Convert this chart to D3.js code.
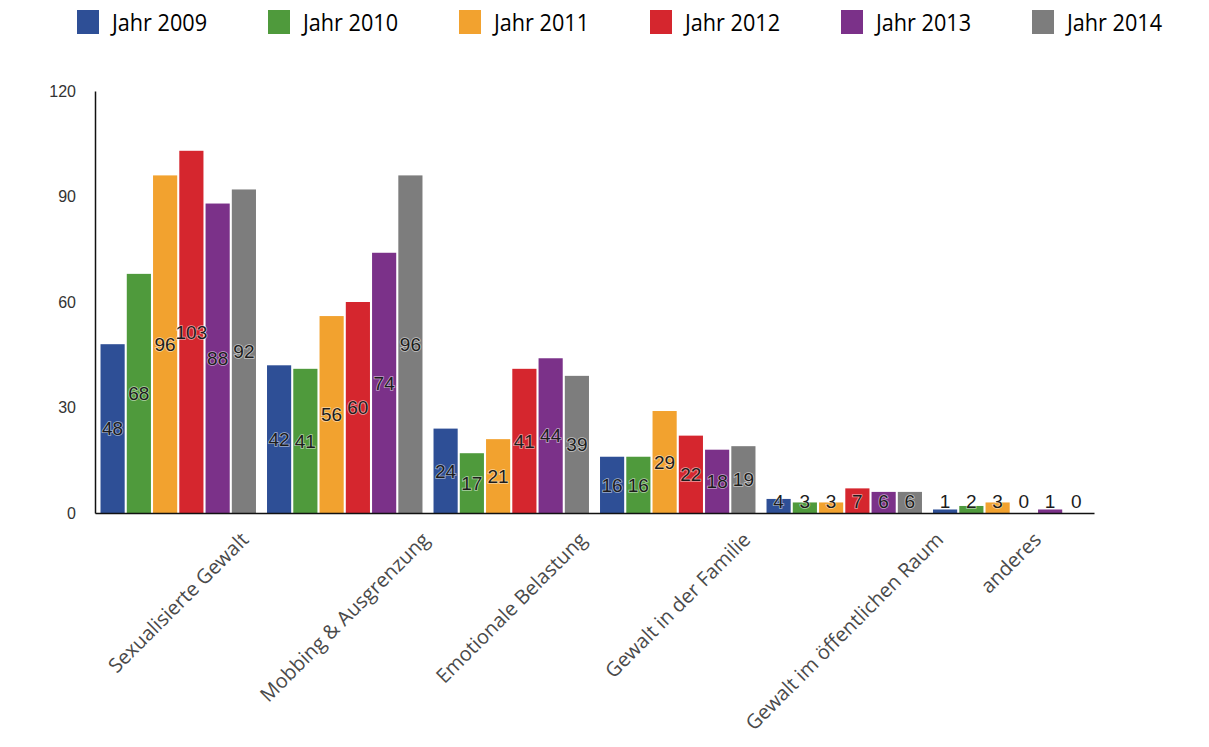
<!DOCTYPE html>
<html><head><meta charset="utf-8">
<script src="https://cdn.jsdelivr.net/npm/d3@7"></script>
<style>
html,body{margin:0;padding:0;background:#fff;}
svg{display:block;}
</style></head>
<body>
<svg id="chart" width="1209" height="747"></svg>
<script>
const categories = ["Sexualisierte Gewalt","Mobbing & Ausgrenzung","Emotionale Belastung","Gewalt in der Familie","Gewalt im öffentlichen Raum","anderes"];
const seriesNames = ["Jahr 2009","Jahr 2010","Jahr 2011","Jahr 2012","Jahr 2013","Jahr 2014"];
const values2009 = [48,42,24,16,4,1];
const values2010 = [68,41,17,16,3,2];
const values2011 = [96,56,21,29,3,3];
const values2012 = [103,60,41,22,7,0];
const values2013 = [88,74,44,18,6,1];
const values2014 = [92,96,39,19,6,0];
const yTicks = [0,30,60,90,120];
const colors = ["#2e4f96","#4f9a3c","#f2a22f","#d5262e","#7b3189","#7d7d7d"];

const seriesValues = [values2009,values2010,values2011,values2012,values2013,values2014];
const svg = d3.select("#chart");

const x0 = d3.scaleBand().domain(categories).range([95,1094]).paddingInner(0.06).paddingOuter(0.03);
const x1 = d3.scaleBand().domain(seriesNames).range([0,x0.bandwidth()]).paddingInner(0.08).paddingOuter(0.02);
const y = d3.scaleLinear().domain([0,120]).range([513,91]);

// bars
categories.forEach((c,ci)=>{
  const g = svg.append("g").attr("transform",`translate(${x0(c)},0)`);
  seriesNames.forEach((s,si)=>{
    const v = seriesValues[si][ci];
    g.append("rect")
      .attr("x",x1(s)).attr("width",x1.bandwidth())
      .attr("y",y(v)).attr("height",y(0)-y(v))
      .attr("fill",colors[si]);
  });
});

// value labels
categories.forEach((c,ci)=>{
  seriesNames.forEach((s,si)=>{
    const v = seriesValues[si][ci];
    svg.append("text")
      .attr("x",x0(c)+x1(s)+x1.bandwidth()/2)
      .attr("y",y(Math.max(v/2,3.5)))
      .attr("dy","0.36em")
      .attr("text-anchor","middle")
      .attr("font-family","Liberation Sans, Arial, sans-serif")
      .attr("font-size",19)
      .attr("fill","#1c1c1c")
      .attr("stroke","rgba(255,255,255,0.55)")
      .attr("stroke-width",1.6)
      .attr("paint-order","stroke")
      .text(v);
  });
});

// y axis
const yAxis = d3.axisLeft(y).tickValues(yTicks).tickSize(0).tickPadding(19);
const ya = svg.append("g").attr("transform","translate(95,0)").call(yAxis);
ya.select(".domain").attr("stroke","#111").attr("stroke-width",1.5);
ya.selectAll("text").attr("font-family","Liberation Sans, Arial, sans-serif").attr("font-size",16).attr("fill","#333");

// x axis line
const xAxis = d3.axisBottom(x0).tickSize(0).tickFormat("");
const xa = svg.append("g").attr("transform","translate(0,513)").call(xAxis);
xa.select(".domain").attr("stroke","#111").attr("stroke-width",1.5);

// x labels rotated
categories.forEach(c=>{
  const cx = x0(c)+x0.bandwidth()/2;
  const t = svg.append("text")
    .attr("font-family","Open Sans, sans-serif")
    .attr("font-size",20)
    .attr("fill","#4a4a4a")
    .attr("text-anchor","middle")
    .text(c);
  const L = t.node().getComputedTextLength();
  const cy = 530 + L/2*Math.SQRT1_2 + 6;
  t.attr("transform",`translate(${cx},${cy}) rotate(-45)`).attr("dy","0.35em");
});

// legend
const legendX = d3.scaleBand().domain(seriesNames).range([77,77+191*6]);
seriesNames.forEach((s,i)=>{
  const lx = legendX(s);
  svg.append("rect").attr("x",lx).attr("y",10).attr("width",22).attr("height",24).attr("fill",colors[i]);
  svg.append("text").attr("x",lx+35).attr("y",31)
    .attr("font-family","Open Sans, sans-serif")
    .attr("font-size",23)
    .attr("font-weight",500)
    .attr("fill","#000")
    .attr("textLength",95).attr("lengthAdjust","spacingAndGlyphs")
    .text(s);
});
</script>
</body></html>
